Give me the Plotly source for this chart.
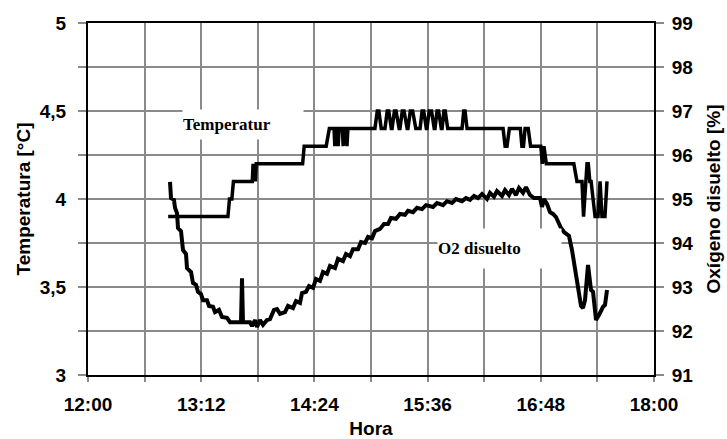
import pandas as pd
import plotly.graph_objects as go

DAY = "2000-01-01 "

# Temperature log (clock time, °C)
temp_time = [
    "12:51:00", "13:29:00", "13:30:00", "13:31:30", "13:32:30", "13:44:30", "13:45:00",
    "13:45:30", "13:46:00", "13:46:30", "13:47:00", "14:16:30", "14:17:30", "14:31:30",
    "14:33:30", "14:36:30", "14:37:00", "14:37:36", "14:38:36", "14:39:06", "14:39:42",
    "14:41:48", "14:42:18", "14:42:54", "14:44:12", "14:44:42", "14:45:18",
    "15:02:30", "15:04:00", "15:05:00", "15:06:30",
    "15:08:54", "15:10:18", "15:11:18", "15:12:54",
    "15:13:24", "15:14:54", "15:15:54", "15:17:54",
    "15:18:24", "15:19:54", "15:21:00", "15:23:00",
    "15:23:30", "15:25:00", "15:26:30", "15:28:30",
    "15:31:12", "15:32:30", "15:33:30", "15:35:12",
    "15:35:36", "15:37:00", "15:38:30", "15:40:12",
    "15:40:42", "15:42:00", "15:43:00", "15:44:42",
    "15:45:12", "15:46:24", "15:47:12", "15:48:48",
    "15:57:54", "15:59:00", "15:59:48", "16:01:06",
    "16:24:00", "16:25:18", "16:26:30", "16:28:00",
    "16:35:00", "16:36:00", "16:37:00", "16:38:00", "16:40:00", "16:41:30",
    "16:48:00", "16:49:00", "16:50:00", "16:51:30",
    "17:09:00", "17:11:00", "17:14:12", "17:15:12", "17:17:24", "17:18:12",
    "17:19:12", "17:20:00", "17:22:30", "17:24:24", "17:25:42", "17:26:54",
    "17:28:48", "17:30:06",
]
temp_val = [
    3.9, 3.9, 4.0, 4.0, 4.1, 4.1, 4.2,
    4.1, 4.2, 4.1, 4.2, 4.2, 4.3, 4.3,
    4.4, 4.4, 4.3, 4.4, 4.4, 4.3, 4.4,
    4.4, 4.3, 4.4, 4.4, 4.3, 4.4,
    4.4, 4.5, 4.5, 4.4,
    4.4, 4.5, 4.5, 4.4,
    4.4, 4.5, 4.5, 4.4,
    4.4, 4.5, 4.5, 4.4,
    4.4, 4.5, 4.5, 4.4,
    4.4, 4.5, 4.5, 4.4,
    4.4, 4.5, 4.5, 4.4,
    4.4, 4.5, 4.5, 4.4,
    4.4, 4.5, 4.5, 4.4,
    4.4, 4.5, 4.5, 4.4,
    4.4, 4.3, 4.3, 4.4,
    4.4, 4.3, 4.3, 4.4, 4.4, 4.3,
    4.3, 4.2, 4.3, 4.2,
    4.2, 4.1, 4.1, 3.9, 4.2, 4.2,
    4.1, 4.1, 3.9, 3.9, 4.1, 3.9,
    3.9, 4.1,
]

# Dissolved oxygen log (clock time, % saturation)
o2_time = [
    "12:52:10", "12:52:47", "12:54:42", "12:55:20", "12:56:37", "12:57:15", "12:59:09",
    "13:00:25", "13:02:20", "13:02:58", "13:05:31", "13:06:47", "13:08:41", "13:09:58",
    "13:11:52", "13:13:09", "13:15:41", "13:16:58", "13:19:30", "13:20:47", "13:23:19",
    "13:25:14", "13:28:25", "13:30:19", "13:37:19", "13:37:57", "13:38:35", "13:43:02",
    "13:44:19", "13:46:13", "13:47:29", "13:49:24", "13:51:19", "13:53:51", "13:55:46",
    "13:58:18", "14:00:13", "14:02:07", "14:05:18", "14:07:13", "14:10:23", "14:12:18",
    "14:14:50", "14:16:07", "14:18:40", "14:20:34", "14:23:07", "14:25:01", "14:27:34",
    "14:29:28", "14:32:01", "14:33:55", "14:37:06", "14:39:01", "14:42:11", "14:44:06",
    "14:46:39", "14:48:33", "14:51:44", "14:53:38", "14:56:11", "14:58:06", "15:00:38",
    "15:02:33", "15:05:44", "15:08:16", "15:10:49", "15:12:43", "15:15:54", "15:18:27",
    "15:21:38", "15:23:32", "15:26:43", "15:29:16", "15:32:26", "15:34:59", "15:39:26",
    "15:41:59", "15:45:48", "15:48:20", "15:51:31", "15:54:04", "15:57:53", "16:00:26",
    "16:02:58", "16:05:31", "16:08:04", "16:10:36", "16:13:47", "16:15:41", "16:18:14",
    "16:20:09", "16:23:19", "16:25:14", "16:27:47", "16:29:41", "16:32:14", "16:34:08",
    "16:36:41", "16:38:35", "16:41:08", "16:43:41", "16:47:29", "16:48:46", "16:50:02",
    "16:51:57", "16:53:52", "16:55:46", "16:57:40", "16:58:56", "17:00:51", "17:02:46",
    "17:05:56", "17:07:51", "17:09:46", "17:11:40", "17:13:34", "17:14:50", "17:16:07",
    "17:18:02", "17:19:56", "17:21:13", "17:23:07", "17:25:01", "17:27:34", "17:28:50",
    "17:30:07",
]
o2_val = [
    95.39, 95.02, 94.98, 94.80, 94.68, 94.34, 94.27,
    93.84, 93.75, 93.43, 93.34, 93.09, 93.05, 92.89,
    92.84, 92.70, 92.70, 92.57, 92.55, 92.43, 92.48,
    92.32, 92.30, 92.20, 92.20, 93.20, 92.20, 92.20,
    92.11, 92.25, 92.09, 92.25, 92.14, 92.25, 92.27,
    92.48, 92.50, 92.39, 92.43, 92.57, 92.52, 92.68,
    92.64, 92.86, 92.89, 93.02, 92.98, 93.18, 93.14,
    93.34, 93.30, 93.48, 93.43, 93.64, 93.59, 93.75,
    93.70, 93.86, 93.86, 94.02, 94.00, 94.14, 94.11,
    94.27, 94.32, 94.43, 94.43, 94.57, 94.55, 94.66,
    94.64, 94.73, 94.70, 94.80, 94.77, 94.86, 94.82,
    94.91, 94.86, 94.95, 94.91, 95.00, 94.95, 95.02,
    94.98, 95.07, 95.02, 95.11, 95.00, 95.14, 95.05,
    95.18, 95.07, 95.20, 95.09, 95.23, 95.09, 95.25,
    95.14, 95.27, 95.09, 95.02, 95.02, 94.82, 95.00,
    94.89, 94.70, 94.66, 94.59, 94.48, 94.34, 94.25,
    94.16, 93.84, 93.39, 92.98, 92.57, 92.52, 92.70,
    93.50, 92.93, 92.89, 92.25, 92.36, 92.55, 92.59,
    92.93,
]

left_ticks = [3, 3.5, 4, 4.5, 5]
right_ticks = [91, 92, 93, 94, 95, 96, 97, 98, 99]

GRID = "#8a8a8a"
AXIS_FONT = dict(family="Arial, Liberation Sans", size=19, color="black", weight="bold")
LABEL_FONT = dict(family="Times New Roman, Liberation Serif", size=17, color="black", weight="bold")

tt = pd.to_datetime([DAY + t for t in temp_time])
to = pd.to_datetime([DAY + t for t in o2_time])

fig = go.Figure()
fig.add_trace(go.Scatter(x=tt, y=temp_val, mode="lines", name="Temperatura",
                         line=dict(color="black", width=3.5), yaxis="y"))
fig.add_trace(go.Scatter(x=to, y=o2_val, mode="lines", name="O2 disuelto",
                         line=dict(color="black", width=4), yaxis="y2"))

MIN = 60 * 1000
fig.update_layout(
    width=727, height=439,
    margin=dict(l=88, r=73, t=23, b=64),
    paper_bgcolor="white", plot_bgcolor="white",
    showlegend=False,
    separators=",.",
    xaxis=dict(
        type="date",
        range=[DAY + "12:00", DAY + "18:00"],
        tick0=DAY + "12:00", dtick=72 * MIN, tickformat="%H:%M",
        showgrid=True, gridcolor=GRID, gridwidth=2,
        ticks="outside", ticklen=5, tickwidth=2, tickcolor=GRID,
        minor=dict(dtick=36 * MIN, showgrid=True, gridcolor=GRID, gridwidth=2,
                   ticks="outside", ticklen=5, tickwidth=2, tickcolor=GRID),
        showline=True, linecolor="black", linewidth=2, mirror=True,
        tickfont=AXIS_FONT, ticklabelstandoff=6,
        title=dict(text="Hora", font=AXIS_FONT, standoff=8),
        automargin=False,
    ),
    yaxis=dict(
        range=[3, 5], tickvals=left_ticks,
        showgrid=True, gridcolor=GRID, gridwidth=2, zeroline=False,
        ticks="outside", ticklen=8, tickwidth=2, tickcolor=GRID,
        minor=dict(dtick=0.25, showgrid=True, gridcolor=GRID, gridwidth=2,
                   ticks="outside", ticklen=8, tickwidth=2, tickcolor=GRID),
        showline=True, linecolor="black", linewidth=2,
        tickfont=AXIS_FONT, ticklabelstandoff=8,
        title=dict(text="Temperatura [°C]", font=AXIS_FONT, standoff=4),
        automargin=False,
    ),
    yaxis2=dict(
        range=[91, 99], tickvals=right_ticks, overlaying="y", side="right",
        showgrid=False, zeroline=False,
        ticks="outside", ticklen=8, tickwidth=2, tickcolor=GRID,
        showline=True, linecolor="black", linewidth=2,
        tickfont=AXIS_FONT, ticklabelstandoff=4,
        title=dict(text="Oxígeno disuelto [%]", font=AXIS_FONT, standoff=14),
        automargin=False,
    ),
    annotations=[
        dict(text="Temperatur", xref="paper", yref="paper", x=0.1661, y=0.7557,
             xanchor="left", yanchor="top", showarrow=False, align="left",
             width=120, height=29, borderpad=0, bgcolor="white", font=LABEL_FONT),
        dict(text="O2 disuelto", xref="paper", yref="paper", x=0.6166, y=0.4176,
             xanchor="left", yanchor="top", showarrow=False, align="left",
             width=123, height=39, borderpad=0, bgcolor="white", font=LABEL_FONT),
    ],
)

fig.write_html("out.html")
